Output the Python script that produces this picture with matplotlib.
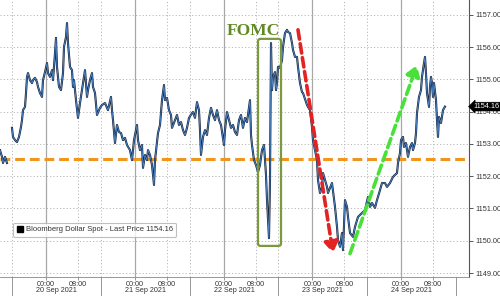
import numpy as np
import matplotlib
matplotlib.use("Agg")
import matplotlib.pyplot as plt
from matplotlib.patches import FancyBboxPatch, FancyArrowPatch
from matplotlib.lines import Line2D

# ---- data (x = trading hours from 20 Sep 00:00; one trading day = 22.2 units) ----
DAY = 22.2
t_fri = [-11.5, -11.0, -10.75, -10.25, -9.75]
v_fri = [1152.81, 1152.60, 1152.41, 1152.60, 1152.41]

t_main = [-8.5, -8.25, -7.75, -7.25, -6.75, -6.25, -6.0, -5.75, -5.25, -5.0, -4.75, -4.5, -4.0, -3.5, -3.25,
          -2.75, -2.25, -2.0, -1.5, -1.0, -0.75, -0.25, 0.25, 0.5, 1.0, 1.5, 1.75, 2.25, 2.5, 2.75, 3.25,
          3.75, 4.25, 4.5, 5.0, 5.25, 5.5, 6.0, 6.5, 6.75, 7.0, 7.5, 8.0, 8.5, 9.0, 9.25, 9.75, 10.25,
          10.5, 11.0, 11.5, 11.75, 12.25, 12.75, 13.5, 14.0, 14.75, 15.5, 16.25, 16.5, 16.75, 17.25, 17.75,
          18.25, 18.75, 19.25, 19.75, 20.25, 21.0, 21.5, 22.0, 22.75, 23.0, 23.5, 24.0, 24.25, 24.75, 25.25,
          25.5, 26.0, 26.5, 27.0, 27.25, 28.0, 28.5, 29.0, 29.5, 29.75, 30.25, 30.75, 31.25, 31.5, 32.25,
          32.75, 33.25, 33.75, 34.25, 34.75, 35.25, 35.75, 36.5, 36.75, 37.25, 37.75, 38.25, 38.5, 38.75,
          39.25, 39.75, 40.25, 40.75, 41.25, 41.75, 42.25, 42.75, 43.25, 43.75, 44.5, 44.75, 45.25, 45.75,
          46.25, 46.75, 47.25, 47.75, 48.25, 48.75, 49.25, 49.75, 50.25, 50.75, 51.0, 51.25, 51.5, 52.0,
          52.5, 53.0, 53.5, 54.0, 54.5, 54.75, 55.0, 55.25, 55.5, 55.75, 56.0, 56.25, 56.5, 56.75, 57.25,
          57.5, 57.75, 58.0, 58.5, 59.0, 59.25, 59.75, 60.25, 60.5, 61.0, 61.5, 61.75, 62.25, 62.75, 63.0,
          63.5, 64.0, 64.25, 64.75, 65.25, 65.5, 66.0, 66.5, 66.75, 67.25, 67.75, 68.0, 68.5, 69.0, 69.25,
          69.75, 70.25, 70.5, 71.5, 72.25, 72.75, 73.0, 73.5, 74.0, 74.25, 74.75, 75.25, 75.5, 76.0, 76.75,
          77.25, 78.0, 79.0, 79.75, 80.5, 81.0, 81.5, 82.25, 82.75, 83.5, 84.0, 84.75, 85.25, 86.0, 86.75,
          87.75, 88.0, 88.5, 88.75, 89.25, 89.5, 90.0, 90.5, 91.0, 91.5, 91.75, 92.25, 92.5, 92.75, 93.25,
          93.75, 94.0, 94.5, 94.75, 95.0, 95.25, 95.75, 96.0, 96.25, 96.5, 96.75, 97.0, 97.5, 97.75, 98.0,
          98.25, 98.75, 99.25, 99.75]
v_main = [1153.50, 1153.22, 1153.12, 1153.06, 1153.22, 1153.53, 1153.74, 1154.05, 1154.15, 1154.58, 1155.08,
          1155.20, 1154.98, 1154.89, 1154.98, 1155.05, 1154.92, 1154.77, 1154.58, 1154.46, 1154.98, 1155.23,
          1155.51, 1155.20, 1155.08, 1155.29, 1154.98, 1155.82, 1156.29, 1155.39, 1154.77, 1154.67, 1155.20,
          1156.01, 1156.32, 1156.75, 1156.13, 1155.39, 1155.29, 1154.77, 1154.98, 1154.36, 1153.81, 1154.27,
          1154.67, 1154.89, 1155.29, 1154.46, 1154.67, 1154.98, 1155.20, 1154.77, 1154.58, 1153.90, 1154.12,
          1154.21, 1154.27, 1154.05, 1154.46, 1154.05, 1153.74, 1153.03, 1153.59, 1153.37, 1153.34, 1153.12,
          1153.19, 1152.97, 1152.81, 1152.50, 1153.12, 1153.59, 1153.12, 1152.81, 1152.97, 1152.26, 1152.66,
          1152.50, 1152.81, 1152.66, 1152.35, 1151.73, 1152.50, 1153.34, 1153.59, 1154.36, 1154.83, 1154.36,
          1154.43, 1154.05, 1153.90, 1153.50, 1153.74, 1153.90, 1153.59, 1153.68, 1153.43, 1153.28, 1153.50,
          1153.81, 1153.96, 1153.99, 1153.81, 1154.30, 1154.05, 1153.43, 1152.66, 1153.22, 1153.43, 1153.28,
          1153.81, 1154.12, 1153.90, 1153.74, 1154.05, 1153.74, 1153.59, 1152.97, 1153.43, 1153.99, 1153.74,
          1153.50, 1153.59, 1153.37, 1153.28, 1153.74, 1153.90, 1153.50, 1153.81, 1153.68, 1154.12, 1154.36,
          1153.28, 1152.97, 1152.50, 1152.35, 1152.13, 1152.35, 1152.81, 1152.97, 1152.50, 1152.04, 1151.26,
          1150.64, 1150.08, 1151.88, 1156.13, 1154.67, 1155.08, 1155.23, 1154.67, 1154.89, 1155.39, 1155.36,
          1155.60, 1156.01, 1156.44, 1156.54, 1156.47, 1156.44, 1156.13, 1155.92, 1155.70, 1155.70, 1155.39,
          1154.89, 1154.61, 1154.58, 1154.39, 1154.21, 1154.15, 1154.05, 1153.53, 1153.12, 1152.81, 1152.50,
          1151.88, 1151.48, 1151.67, 1152.10, 1151.88, 1151.67, 1151.48, 1151.79, 1151.05, 1150.43, 1150.02,
          1149.81, 1150.24, 1149.71, 1151.26, 1151.05, 1150.74, 1150.24, 1150.12, 1150.43, 1150.74, 1150.86,
          1150.95, 1151.36, 1151.05, 1151.17, 1151.02, 1151.26, 1151.57, 1151.79, 1151.79, 1151.67, 1151.79,
          1151.98, 1152.10, 1152.41, 1152.72, 1153.12, 1153.22, 1152.91, 1153.03, 1152.60, 1152.91, 1153.03,
          1152.81, 1153.03, 1153.34, 1153.96, 1154.46, 1154.67, 1155.08, 1155.51, 1155.70, 1155.20, 1154.58,
          1154.15, 1154.77, 1155.08, 1154.89, 1154.46, 1154.89, 1154.36, 1153.74, 1153.22, 1153.84, 1153.65,
          1154.05, 1154.16]

last_price = 1154.16
support_level = 1152.55
y_ticks = [1149, 1150, 1151, 1152, 1153, 1154, 1155, 1156, 1157]
dates = ["20 Sep 2021", "21 Sep 2021", "22 Sep 2021", "23 Sep 2021", "24 Sep 2021"]
hour_labels = ["00:00", "08:00"]
legend_label = "Bloomberg Dollar Spot - Last Price 1154.16"

# FOMC annotation (time range / value range), arrows
fomc_t = (53.0, 58.75)
fomc_v = (1149.84, 1156.26)
fomc_text_pos = (51.75, 1156.38)
red_arrow = ((63.0, 1156.54), (71.75, 1149.62))
green_arrow = ((76.0, 1149.60), (92.75, 1155.45))

# ---- plot ----
plt.rcParams['font.family'] = ['Liberation Sans', 'DejaVu Sans']
fig = plt.figure(figsize=(5, 2.96), dpi=100)
ax = fig.add_axes([0.0, 1 - 277 / 296, 469 / 500, 277 / 296])
ax.set_xlim(-11.5, 105.75)
ax.set_ylim(1148.876, 1157.465)

grid_c = '#b8b8b8'
for yv in y_ticks:
    ax.axhline(yv, color=grid_c, lw=0.7, ls=(0, (1.2, 2.2)), zorder=1)
day_starts = [i * DAY for i in range(len(dates))]
for d in day_starts:
    ax.axvline(d, color='#a8a8a8', lw=0.9, zorder=1)
    ax.axvline(d + 8, color=grid_c, lw=0.7, ls=(0, (1.2, 2.2)), zorder=1)
seps = [d - 8.5 for d in day_starts] + [len(dates) * DAY - 8.5]
for s in seps[:-1]:
    ax.axvline(s, color=grid_c, lw=0.7, ls=(0, (1.2, 2.2)), zorder=1)

ax.axhline(support_level, color='#f0951e', lw=2.2, ls=(0, (3.2, 1.6)), zorder=3)

for tt, vv in [(t_fri, v_fri), (t_main, v_main)]:
    ax.plot(tt, vv, color='#15243d', lw=1.5, zorder=4)
    ax.plot(tt, vv, color='#5089cc', lw=0.6, zorder=5)

# FOMC box and text
box = FancyBboxPatch((fomc_t[0], fomc_v[0]), fomc_t[1] - fomc_t[0], fomc_v[1] - fomc_v[0],
                     boxstyle="round,pad=0,rounding_size=0.6", fill=False,
                     edgecolor='#7a9a3c', lw=1.6, zorder=6, mutation_aspect=0.12)
ax.add_patch(box)
ax.text(fomc_text_pos[0], fomc_text_pos[1], "FOMC", family=['Liberation Serif', 'DejaVu Serif'],
        weight='bold', fontsize=12.5, color='#5f8a25', ha='center', va='baseline', zorder=7)

for (p0, p1), col in [(red_arrow, '#e32222'), (green_arrow, '#49e03a')]:
    arr = FancyArrowPatch(p0, p1, arrowstyle='-|>,head_length=4,head_width=2.6',
                          color=col, lw=2.6, linestyle=(0, (2.6, 1.3)), zorder=6,
                          shrinkA=0, shrinkB=0, mutation_scale=1.6)
    ax.add_patch(arr)

# axes styling
for sp in ['top', 'left']:
    ax.spines[sp].set_visible(False)
ax.spines['right'].set_color('#555555')
ax.spines['right'].set_linewidth(0.8)
ax.spines['bottom'].set_color('#888888')
ax.spines['bottom'].set_linewidth(0.6)

ax.yaxis.tick_right()
ax.set_yticks(y_ticks)
ax.set_yticklabels([f"{v:.2f}" for v in y_ticks])
ax.tick_params(axis='y', length=3, width=0.7, color='#555555', pad=1.5, labelsize=5.3, labelcolor='#333333')

xt, xl = [], []
for d in day_starts:
    xt += [d, d + 8]
    xl += hour_labels
ax.set_xticks(xt)
ax.set_xticklabels(xl)
ax.tick_params(axis='x', length=2.0, width=0.6, color='#888888', pad=0.6, labelsize=5.2, labelcolor='#333333')

trans = ax.get_xaxis_transform()
for s in seps:
    ax.plot([s, s], [0, -0.07], transform=trans, color='#888888', lw=0.6, clip_on=False)
for i, d in enumerate(dates):
    ax.annotate(d, xy=((seps[i] + seps[i + 1]) / 2, 0), xycoords=trans, xytext=(0, -7.0),
                textcoords='offset points', ha='center', va='top', fontsize=5.2, color='#333333')

# last price label
ax.annotate(f"{last_price:.2f}", xy=(1.0, last_price), xycoords=('axes fraction', 'data'),
            xytext=(3.0, 0), textcoords='offset points', ha='left', va='center',
            fontsize=5.3, color='white', zorder=10,
            bbox=dict(boxstyle='larrow,pad=0.12', fc='black', ec='black', lw=0.4))

# legend
handles = [Line2D([], [], marker='s', color='none', markerfacecolor='black', markeredgecolor='black',
                  markersize=5)]
leg = ax.legend(handles, [legend_label], loc='upper left', bbox_to_anchor=(0.02, 0.21),
                frameon=True, fontsize=5.5, handlelength=0.9, handletextpad=0.3,
                borderpad=0.45, labelcolor='#333333', fancybox=True)
leg.get_frame().set_edgecolor('#b0b0b0')
leg.get_frame().set_linewidth(0.8)
leg.set_zorder(8)

fig.savefig("out.png", dpi=100)
